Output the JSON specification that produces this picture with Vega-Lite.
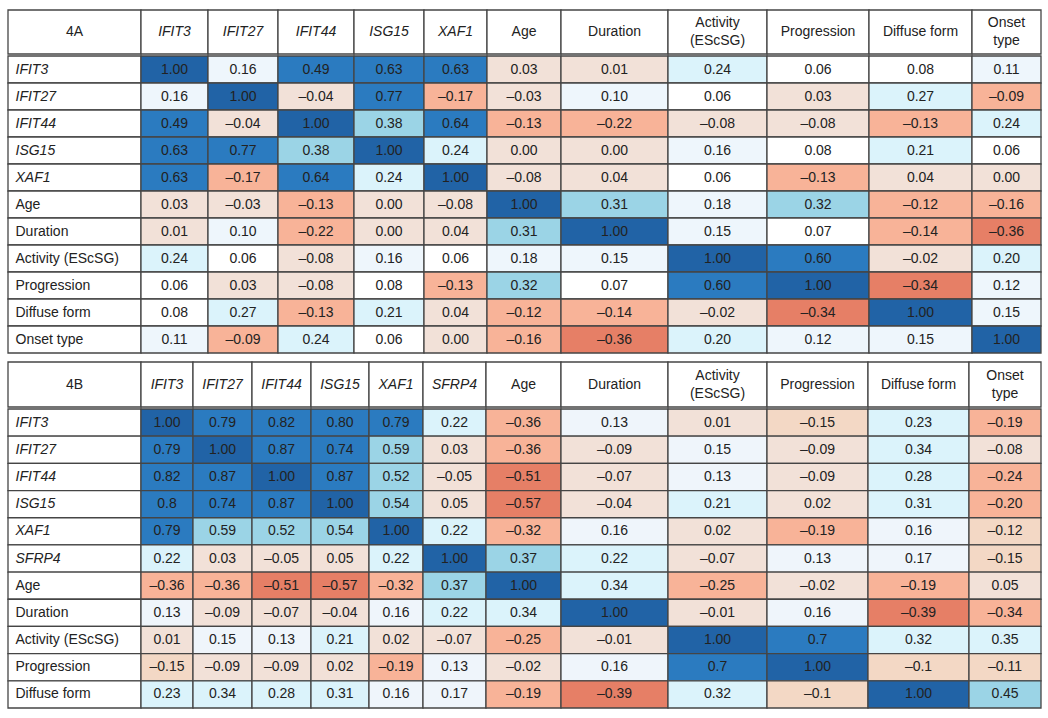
{
"$schema": "https://vega.github.io/schema/vega-lite/v6.json",
"padding": {"left": 7, "top": 9, "right": 4, "bottom": 4},
"background": "white",
"config": {
  "view": {"stroke": null},
  "text": {"font": "Liberation Sans, Arial, sans-serif", "fontSize": 14, "color": "#222", "baseline": "middle", "lineBreak": "\n", "lineHeight": 18},
  "rect": {"stroke": "#454545", "strokeWidth": 1.3}
},
"datasets": {
  "hA": [
    {"c": "lab", "h": "4A"}, {"c": "IFIT3", "h": "IFIT3"}, {"c": "IFIT27", "h": "IFIT27"}, {"c": "IFIT44", "h": "IFIT44"}, {"c": "ISG15", "h": "ISG15"}, {"c": "XAF1", "h": "XAF1"},
    {"c": "Age", "h": "Age"}, {"c": "Duration", "h": "Duration"}, {"c": "Activity (EScSG)", "h": "Activity\n(EScSG)"}, {"c": "Progression", "h": "Progression"}, {"c": "Diffuse form", "h": "Diffuse form"}, {"c": "Onset type", "h": "Onset\ntype"}
  ],
  "hB": [
    {"c": "lab", "h": "4B"}, {"c": "IFIT3", "h": "IFIT3"}, {"c": "IFIT27", "h": "IFIT27"}, {"c": "IFIT44", "h": "IFIT44"}, {"c": "ISG15", "h": "ISG15"}, {"c": "XAF1", "h": "XAF1"}, {"c": "SFRP4", "h": "SFRP4"},
    {"c": "Age", "h": "Age"}, {"c": "Duration", "h": "Duration"}, {"c": "Activity (EScSG)", "h": "Activity\n(EScSG)"}, {"c": "Progression", "h": "Progression"}, {"c": "Diffuse form", "h": "Diffuse form"}, {"c": "Onset type", "h": "Onset\ntype"}
  ],
  "A": [
    {"r":"IFIT3","c":"IFIT3","v":1,"t":"1.00"},{"r":"IFIT3","c":"IFIT27","v":0.16,"t":"0.16"},{"r":"IFIT3","c":"IFIT44","v":0.49,"t":"0.49"},{"r":"IFIT3","c":"ISG15","v":0.63,"t":"0.63"},{"r":"IFIT3","c":"XAF1","v":0.63,"t":"0.63"},{"r":"IFIT3","c":"Age","v":0.03,"t":"0.03"},{"r":"IFIT3","c":"Duration","v":0.01,"t":"0.01"},{"r":"IFIT3","c":"Activity (EScSG)","v":0.24,"t":"0.24"},{"r":"IFIT3","c":"Progression","v":0.06,"t":"0.06"},{"r":"IFIT3","c":"Diffuse form","v":0.08,"t":"0.08"},{"r":"IFIT3","c":"Onset type","v":0.11,"t":"0.11"},
    {"r":"IFIT27","c":"IFIT3","v":0.16,"t":"0.16"},{"r":"IFIT27","c":"IFIT27","v":1,"t":"1.00"},{"r":"IFIT27","c":"IFIT44","v":-0.04,"t":"–0.04"},{"r":"IFIT27","c":"ISG15","v":0.77,"t":"0.77"},{"r":"IFIT27","c":"XAF1","v":-0.17,"t":"–0.17"},{"r":"IFIT27","c":"Age","v":-0.03,"t":"–0.03"},{"r":"IFIT27","c":"Duration","v":0.10,"t":"0.10"},{"r":"IFIT27","c":"Activity (EScSG)","v":0.06,"t":"0.06"},{"r":"IFIT27","c":"Progression","v":0.03,"t":"0.03"},{"r":"IFIT27","c":"Diffuse form","v":0.27,"t":"0.27"},{"r":"IFIT27","c":"Onset type","v":-0.09,"t":"–0.09"},
    {"r":"IFIT44","c":"IFIT3","v":0.49,"t":"0.49"},{"r":"IFIT44","c":"IFIT27","v":-0.04,"t":"–0.04"},{"r":"IFIT44","c":"IFIT44","v":1,"t":"1.00"},{"r":"IFIT44","c":"ISG15","v":0.38,"t":"0.38"},{"r":"IFIT44","c":"XAF1","v":0.64,"t":"0.64"},{"r":"IFIT44","c":"Age","v":-0.13,"t":"–0.13"},{"r":"IFIT44","c":"Duration","v":-0.22,"t":"–0.22"},{"r":"IFIT44","c":"Activity (EScSG)","v":-0.08,"t":"–0.08"},{"r":"IFIT44","c":"Progression","v":-0.08,"t":"–0.08"},{"r":"IFIT44","c":"Diffuse form","v":-0.13,"t":"–0.13"},{"r":"IFIT44","c":"Onset type","v":0.24,"t":"0.24"},
    {"r":"ISG15","c":"IFIT3","v":0.63,"t":"0.63"},{"r":"ISG15","c":"IFIT27","v":0.77,"t":"0.77"},{"r":"ISG15","c":"IFIT44","v":0.38,"t":"0.38"},{"r":"ISG15","c":"ISG15","v":1,"t":"1.00"},{"r":"ISG15","c":"XAF1","v":0.24,"t":"0.24"},{"r":"ISG15","c":"Age","v":0.0,"t":"0.00"},{"r":"ISG15","c":"Duration","v":0.0,"t":"0.00"},{"r":"ISG15","c":"Activity (EScSG)","v":0.16,"t":"0.16"},{"r":"ISG15","c":"Progression","v":0.08,"t":"0.08"},{"r":"ISG15","c":"Diffuse form","v":0.21,"t":"0.21"},{"r":"ISG15","c":"Onset type","v":0.06,"t":"0.06"},
    {"r":"XAF1","c":"IFIT3","v":0.63,"t":"0.63"},{"r":"XAF1","c":"IFIT27","v":-0.17,"t":"–0.17"},{"r":"XAF1","c":"IFIT44","v":0.64,"t":"0.64"},{"r":"XAF1","c":"ISG15","v":0.24,"t":"0.24"},{"r":"XAF1","c":"XAF1","v":1,"t":"1.00"},{"r":"XAF1","c":"Age","v":-0.08,"t":"–0.08"},{"r":"XAF1","c":"Duration","v":0.04,"t":"0.04"},{"r":"XAF1","c":"Activity (EScSG)","v":0.06,"t":"0.06"},{"r":"XAF1","c":"Progression","v":-0.13,"t":"–0.13"},{"r":"XAF1","c":"Diffuse form","v":0.04,"t":"0.04"},{"r":"XAF1","c":"Onset type","v":0.0,"t":"0.00"},
    {"r":"Age","c":"IFIT3","v":0.03,"t":"0.03"},{"r":"Age","c":"IFIT27","v":-0.03,"t":"–0.03"},{"r":"Age","c":"IFIT44","v":-0.13,"t":"–0.13"},{"r":"Age","c":"ISG15","v":0.0,"t":"0.00"},{"r":"Age","c":"XAF1","v":-0.08,"t":"–0.08"},{"r":"Age","c":"Age","v":1,"t":"1.00"},{"r":"Age","c":"Duration","v":0.31,"t":"0.31"},{"r":"Age","c":"Activity (EScSG)","v":0.18,"t":"0.18"},{"r":"Age","c":"Progression","v":0.32,"t":"0.32"},{"r":"Age","c":"Diffuse form","v":-0.12,"t":"–0.12"},{"r":"Age","c":"Onset type","v":-0.16,"t":"–0.16"},
    {"r":"Duration","c":"IFIT3","v":0.01,"t":"0.01"},{"r":"Duration","c":"IFIT27","v":0.10,"t":"0.10"},{"r":"Duration","c":"IFIT44","v":-0.22,"t":"–0.22"},{"r":"Duration","c":"ISG15","v":0.0,"t":"0.00"},{"r":"Duration","c":"XAF1","v":0.04,"t":"0.04"},{"r":"Duration","c":"Age","v":0.31,"t":"0.31"},{"r":"Duration","c":"Duration","v":1,"t":"1.00"},{"r":"Duration","c":"Activity (EScSG)","v":0.15,"t":"0.15"},{"r":"Duration","c":"Progression","v":0.07,"t":"0.07"},{"r":"Duration","c":"Diffuse form","v":-0.14,"t":"–0.14"},{"r":"Duration","c":"Onset type","v":-0.36,"t":"–0.36"},
    {"r":"Activity (EScSG)","c":"IFIT3","v":0.24,"t":"0.24"},{"r":"Activity (EScSG)","c":"IFIT27","v":0.06,"t":"0.06"},{"r":"Activity (EScSG)","c":"IFIT44","v":-0.08,"t":"–0.08"},{"r":"Activity (EScSG)","c":"ISG15","v":0.16,"t":"0.16"},{"r":"Activity (EScSG)","c":"XAF1","v":0.06,"t":"0.06"},{"r":"Activity (EScSG)","c":"Age","v":0.18,"t":"0.18"},{"r":"Activity (EScSG)","c":"Duration","v":0.15,"t":"0.15"},{"r":"Activity (EScSG)","c":"Activity (EScSG)","v":1,"t":"1.00"},{"r":"Activity (EScSG)","c":"Progression","v":0.60,"t":"0.60"},{"r":"Activity (EScSG)","c":"Diffuse form","v":-0.02,"t":"–0.02"},{"r":"Activity (EScSG)","c":"Onset type","v":0.20,"t":"0.20"},
    {"r":"Progression","c":"IFIT3","v":0.06,"t":"0.06"},{"r":"Progression","c":"IFIT27","v":0.03,"t":"0.03"},{"r":"Progression","c":"IFIT44","v":-0.08,"t":"–0.08"},{"r":"Progression","c":"ISG15","v":0.08,"t":"0.08"},{"r":"Progression","c":"XAF1","v":-0.13,"t":"–0.13"},{"r":"Progression","c":"Age","v":0.32,"t":"0.32"},{"r":"Progression","c":"Duration","v":0.07,"t":"0.07"},{"r":"Progression","c":"Activity (EScSG)","v":0.60,"t":"0.60"},{"r":"Progression","c":"Progression","v":1,"t":"1.00"},{"r":"Progression","c":"Diffuse form","v":-0.34,"t":"–0.34"},{"r":"Progression","c":"Onset type","v":0.12,"t":"0.12"},
    {"r":"Diffuse form","c":"IFIT3","v":0.08,"t":"0.08"},{"r":"Diffuse form","c":"IFIT27","v":0.27,"t":"0.27"},{"r":"Diffuse form","c":"IFIT44","v":-0.13,"t":"–0.13"},{"r":"Diffuse form","c":"ISG15","v":0.21,"t":"0.21"},{"r":"Diffuse form","c":"XAF1","v":0.04,"t":"0.04"},{"r":"Diffuse form","c":"Age","v":-0.12,"t":"–0.12"},{"r":"Diffuse form","c":"Duration","v":-0.14,"t":"–0.14"},{"r":"Diffuse form","c":"Activity (EScSG)","v":-0.02,"t":"–0.02"},{"r":"Diffuse form","c":"Progression","v":-0.34,"t":"–0.34"},{"r":"Diffuse form","c":"Diffuse form","v":1,"t":"1.00"},{"r":"Diffuse form","c":"Onset type","v":0.15,"t":"0.15"},
    {"r":"Onset type","c":"IFIT3","v":0.11,"t":"0.11"},{"r":"Onset type","c":"IFIT27","v":-0.09,"t":"–0.09"},{"r":"Onset type","c":"IFIT44","v":0.24,"t":"0.24"},{"r":"Onset type","c":"ISG15","v":0.06,"t":"0.06"},{"r":"Onset type","c":"XAF1","v":0.0,"t":"0.00"},{"r":"Onset type","c":"Age","v":-0.16,"t":"–0.16"},{"r":"Onset type","c":"Duration","v":-0.36,"t":"–0.36"},{"r":"Onset type","c":"Activity (EScSG)","v":0.20,"t":"0.20"},{"r":"Onset type","c":"Progression","v":0.12,"t":"0.12"},{"r":"Onset type","c":"Diffuse form","v":0.15,"t":"0.15"},{"r":"Onset type","c":"Onset type","v":1,"t":"1.00"}
  ],
  "B": [
    {"r":"IFIT3","c":"IFIT3","v":1,"t":"1.00"},{"r":"IFIT3","c":"IFIT27","v":0.79,"t":"0.79"},{"r":"IFIT3","c":"IFIT44","v":0.82,"t":"0.82"},{"r":"IFIT3","c":"ISG15","v":0.80,"t":"0.80"},{"r":"IFIT3","c":"XAF1","v":0.79,"t":"0.79"},{"r":"IFIT3","c":"SFRP4","v":0.22,"t":"0.22"},{"r":"IFIT3","c":"Age","v":-0.36,"t":"–0.36"},{"r":"IFIT3","c":"Duration","v":0.13,"t":"0.13"},{"r":"IFIT3","c":"Activity (EScSG)","v":0.01,"t":"0.01"},{"r":"IFIT3","c":"Progression","v":-0.15,"t":"–0.15"},{"r":"IFIT3","c":"Diffuse form","v":0.23,"t":"0.23"},{"r":"IFIT3","c":"Onset type","v":-0.19,"t":"–0.19"},
    {"r":"IFIT27","c":"IFIT3","v":0.79,"t":"0.79"},{"r":"IFIT27","c":"IFIT27","v":1,"t":"1.00"},{"r":"IFIT27","c":"IFIT44","v":0.87,"t":"0.87"},{"r":"IFIT27","c":"ISG15","v":0.74,"t":"0.74"},{"r":"IFIT27","c":"XAF1","v":0.59,"t":"0.59"},{"r":"IFIT27","c":"SFRP4","v":0.03,"t":"0.03"},{"r":"IFIT27","c":"Age","v":-0.36,"t":"–0.36"},{"r":"IFIT27","c":"Duration","v":-0.09,"t":"–0.09"},{"r":"IFIT27","c":"Activity (EScSG)","v":0.15,"t":"0.15"},{"r":"IFIT27","c":"Progression","v":-0.09,"t":"–0.09"},{"r":"IFIT27","c":"Diffuse form","v":0.34,"t":"0.34"},{"r":"IFIT27","c":"Onset type","v":-0.08,"t":"–0.08"},
    {"r":"IFIT44","c":"IFIT3","v":0.82,"t":"0.82"},{"r":"IFIT44","c":"IFIT27","v":0.87,"t":"0.87"},{"r":"IFIT44","c":"IFIT44","v":1,"t":"1.00"},{"r":"IFIT44","c":"ISG15","v":0.87,"t":"0.87"},{"r":"IFIT44","c":"XAF1","v":0.52,"t":"0.52"},{"r":"IFIT44","c":"SFRP4","v":-0.05,"t":"–0.05"},{"r":"IFIT44","c":"Age","v":-0.51,"t":"–0.51"},{"r":"IFIT44","c":"Duration","v":-0.07,"t":"–0.07"},{"r":"IFIT44","c":"Activity (EScSG)","v":0.13,"t":"0.13"},{"r":"IFIT44","c":"Progression","v":-0.09,"t":"–0.09"},{"r":"IFIT44","c":"Diffuse form","v":0.28,"t":"0.28"},{"r":"IFIT44","c":"Onset type","v":-0.24,"t":"–0.24"},
    {"r":"ISG15","c":"IFIT3","v":0.8,"t":"0.8"},{"r":"ISG15","c":"IFIT27","v":0.74,"t":"0.74"},{"r":"ISG15","c":"IFIT44","v":0.87,"t":"0.87"},{"r":"ISG15","c":"ISG15","v":1,"t":"1.00"},{"r":"ISG15","c":"XAF1","v":0.54,"t":"0.54"},{"r":"ISG15","c":"SFRP4","v":0.05,"t":"0.05"},{"r":"ISG15","c":"Age","v":-0.57,"t":"–0.57"},{"r":"ISG15","c":"Duration","v":-0.04,"t":"–0.04"},{"r":"ISG15","c":"Activity (EScSG)","v":0.21,"t":"0.21"},{"r":"ISG15","c":"Progression","v":0.02,"t":"0.02"},{"r":"ISG15","c":"Diffuse form","v":0.31,"t":"0.31"},{"r":"ISG15","c":"Onset type","v":-0.20,"t":"–0.20"},
    {"r":"XAF1","c":"IFIT3","v":0.79,"t":"0.79"},{"r":"XAF1","c":"IFIT27","v":0.59,"t":"0.59"},{"r":"XAF1","c":"IFIT44","v":0.52,"t":"0.52"},{"r":"XAF1","c":"ISG15","v":0.54,"t":"0.54"},{"r":"XAF1","c":"XAF1","v":1,"t":"1.00"},{"r":"XAF1","c":"SFRP4","v":0.22,"t":"0.22"},{"r":"XAF1","c":"Age","v":-0.32,"t":"–0.32"},{"r":"XAF1","c":"Duration","v":0.16,"t":"0.16"},{"r":"XAF1","c":"Activity (EScSG)","v":0.02,"t":"0.02"},{"r":"XAF1","c":"Progression","v":-0.19,"t":"–0.19"},{"r":"XAF1","c":"Diffuse form","v":0.16,"t":"0.16"},{"r":"XAF1","c":"Onset type","v":-0.12,"t":"–0.12"},
    {"r":"SFRP4","c":"IFIT3","v":0.22,"t":"0.22"},{"r":"SFRP4","c":"IFIT27","v":0.03,"t":"0.03"},{"r":"SFRP4","c":"IFIT44","v":-0.05,"t":"–0.05"},{"r":"SFRP4","c":"ISG15","v":0.05,"t":"0.05"},{"r":"SFRP4","c":"XAF1","v":0.22,"t":"0.22"},{"r":"SFRP4","c":"SFRP4","v":1,"t":"1.00"},{"r":"SFRP4","c":"Age","v":0.37,"t":"0.37"},{"r":"SFRP4","c":"Duration","v":0.22,"t":"0.22"},{"r":"SFRP4","c":"Activity (EScSG)","v":-0.07,"t":"–0.07"},{"r":"SFRP4","c":"Progression","v":0.13,"t":"0.13"},{"r":"SFRP4","c":"Diffuse form","v":0.17,"t":"0.17"},{"r":"SFRP4","c":"Onset type","v":-0.15,"t":"–0.15"},
    {"r":"Age","c":"IFIT3","v":-0.36,"t":"–0.36"},{"r":"Age","c":"IFIT27","v":-0.36,"t":"–0.36"},{"r":"Age","c":"IFIT44","v":-0.51,"t":"–0.51"},{"r":"Age","c":"ISG15","v":-0.57,"t":"–0.57"},{"r":"Age","c":"XAF1","v":-0.32,"t":"–0.32"},{"r":"Age","c":"SFRP4","v":0.37,"t":"0.37"},{"r":"Age","c":"Age","v":1,"t":"1.00"},{"r":"Age","c":"Duration","v":0.34,"t":"0.34"},{"r":"Age","c":"Activity (EScSG)","v":-0.25,"t":"–0.25"},{"r":"Age","c":"Progression","v":-0.02,"t":"–0.02"},{"r":"Age","c":"Diffuse form","v":-0.19,"t":"–0.19"},{"r":"Age","c":"Onset type","v":0.05,"t":"0.05"},
    {"r":"Duration","c":"IFIT3","v":0.13,"t":"0.13"},{"r":"Duration","c":"IFIT27","v":-0.09,"t":"–0.09"},{"r":"Duration","c":"IFIT44","v":-0.07,"t":"–0.07"},{"r":"Duration","c":"ISG15","v":-0.04,"t":"–0.04"},{"r":"Duration","c":"XAF1","v":0.16,"t":"0.16"},{"r":"Duration","c":"SFRP4","v":0.22,"t":"0.22"},{"r":"Duration","c":"Age","v":0.34,"t":"0.34"},{"r":"Duration","c":"Duration","v":1,"t":"1.00"},{"r":"Duration","c":"Activity (EScSG)","v":-0.01,"t":"–0.01"},{"r":"Duration","c":"Progression","v":0.16,"t":"0.16"},{"r":"Duration","c":"Diffuse form","v":-0.39,"t":"–0.39"},{"r":"Duration","c":"Onset type","v":-0.34,"t":"–0.34"},
    {"r":"Activity (EScSG)","c":"IFIT3","v":0.01,"t":"0.01"},{"r":"Activity (EScSG)","c":"IFIT27","v":0.15,"t":"0.15"},{"r":"Activity (EScSG)","c":"IFIT44","v":0.13,"t":"0.13"},{"r":"Activity (EScSG)","c":"ISG15","v":0.21,"t":"0.21"},{"r":"Activity (EScSG)","c":"XAF1","v":0.02,"t":"0.02"},{"r":"Activity (EScSG)","c":"SFRP4","v":-0.07,"t":"–0.07"},{"r":"Activity (EScSG)","c":"Age","v":-0.25,"t":"–0.25"},{"r":"Activity (EScSG)","c":"Duration","v":-0.01,"t":"–0.01"},{"r":"Activity (EScSG)","c":"Activity (EScSG)","v":1,"t":"1.00"},{"r":"Activity (EScSG)","c":"Progression","v":0.7,"t":"0.7"},{"r":"Activity (EScSG)","c":"Diffuse form","v":0.32,"t":"0.32"},{"r":"Activity (EScSG)","c":"Onset type","v":0.35,"t":"0.35"},
    {"r":"Progression","c":"IFIT3","v":-0.15,"t":"–0.15"},{"r":"Progression","c":"IFIT27","v":-0.09,"t":"–0.09"},{"r":"Progression","c":"IFIT44","v":-0.09,"t":"–0.09"},{"r":"Progression","c":"ISG15","v":0.02,"t":"0.02"},{"r":"Progression","c":"XAF1","v":-0.19,"t":"–0.19"},{"r":"Progression","c":"SFRP4","v":0.13,"t":"0.13"},{"r":"Progression","c":"Age","v":-0.02,"t":"–0.02"},{"r":"Progression","c":"Duration","v":0.16,"t":"0.16"},{"r":"Progression","c":"Activity (EScSG)","v":0.7,"t":"0.7"},{"r":"Progression","c":"Progression","v":1,"t":"1.00"},{"r":"Progression","c":"Diffuse form","v":-0.1,"t":"–0.1"},{"r":"Progression","c":"Onset type","v":-0.11,"t":"–0.11"},
    {"r":"Diffuse form","c":"IFIT3","v":0.23,"t":"0.23"},{"r":"Diffuse form","c":"IFIT27","v":0.34,"t":"0.34"},{"r":"Diffuse form","c":"IFIT44","v":0.28,"t":"0.28"},{"r":"Diffuse form","c":"ISG15","v":0.31,"t":"0.31"},{"r":"Diffuse form","c":"XAF1","v":0.16,"t":"0.16"},{"r":"Diffuse form","c":"SFRP4","v":0.17,"t":"0.17"},{"r":"Diffuse form","c":"Age","v":-0.19,"t":"–0.19"},{"r":"Diffuse form","c":"Duration","v":-0.39,"t":"–0.39"},{"r":"Diffuse form","c":"Activity (EScSG)","v":0.32,"t":"0.32"},{"r":"Diffuse form","c":"Progression","v":-0.1,"t":"–0.1"},{"r":"Diffuse form","c":"Diffuse form","v":1,"t":"1.00"},{"r":"Diffuse form","c":"Onset type","v":0.45,"t":"0.45"}
  ]
},
"spacing": 7,
"resolve": {"scale": {"y": "independent", "fill": "independent"}},
"vconcat": [
  {"spacing": 0, "vconcat": [
    {"data": {"name": "hA"}, "spacing": 0, "bounds": "flush", "hconcat": [
      {"width": 133, "height": 44, "transform": [{"filter": "datum.c==='lab'"}], "layer": [{"mark": {"type": "rect", "fill": "white"}, "encoding": {}}, {"mark": "text", "encoding": {"text": {"field": "h"}}}]},
      {"width": 67, "height": 44, "transform": [{"filter": "datum.c==='IFIT3'"}], "layer": [{"mark": {"type": "rect", "fill": "white"}, "encoding": {}}, {"mark": {"type": "text", "fontStyle": "italic"}, "encoding": {"text": {"field": "h"}}}]},
      {"width": 70, "height": 44, "transform": [{"filter": "datum.c==='IFIT27'"}], "layer": [{"mark": {"type": "rect", "fill": "white"}, "encoding": {}}, {"mark": {"type": "text", "fontStyle": "italic"}, "encoding": {"text": {"field": "h"}}}]},
      {"width": 76, "height": 44, "transform": [{"filter": "datum.c==='IFIT44'"}], "layer": [{"mark": {"type": "rect", "fill": "white"}, "encoding": {}}, {"mark": {"type": "text", "fontStyle": "italic"}, "encoding": {"text": {"field": "h"}}}]},
      {"width": 70, "height": 44, "transform": [{"filter": "datum.c==='ISG15'"}], "layer": [{"mark": {"type": "rect", "fill": "white"}, "encoding": {}}, {"mark": {"type": "text", "fontStyle": "italic"}, "encoding": {"text": {"field": "h"}}}]},
      {"width": 63, "height": 44, "transform": [{"filter": "datum.c==='XAF1'"}], "layer": [{"mark": {"type": "rect", "fill": "white"}, "encoding": {}}, {"mark": {"type": "text", "fontStyle": "italic"}, "encoding": {"text": {"field": "h"}}}]},
      {"width": 74, "height": 44, "transform": [{"filter": "datum.c==='Age'"}], "layer": [{"mark": {"type": "rect", "fill": "white"}, "encoding": {}}, {"mark": "text", "encoding": {"text": {"field": "h"}}}]},
      {"width": 107, "height": 44, "transform": [{"filter": "datum.c==='Duration'"}], "layer": [{"mark": {"type": "rect", "fill": "white"}, "encoding": {}}, {"mark": "text", "encoding": {"text": {"field": "h"}}}]},
      {"width": 99, "height": 44, "transform": [{"filter": "datum.c==='Activity (EScSG)'"}], "layer": [{"mark": {"type": "rect", "fill": "white"}, "encoding": {}}, {"mark": {"type": "text", "dy": -9}, "encoding": {"text": {"field": "h"}}}]},
      {"width": 102, "height": 44, "transform": [{"filter": "datum.c==='Progression'"}], "layer": [{"mark": {"type": "rect", "fill": "white"}, "encoding": {}}, {"mark": "text", "encoding": {"text": {"field": "h"}}}]},
      {"width": 103, "height": 44, "transform": [{"filter": "datum.c==='Diffuse form'"}], "layer": [{"mark": {"type": "rect", "fill": "white"}, "encoding": {}}, {"mark": "text", "encoding": {"text": {"field": "h"}}}]},
      {"width": 69, "height": 44, "transform": [{"filter": "datum.c==='Onset type'"}], "layer": [{"mark": {"type": "rect", "fill": "white"}, "encoding": {}}, {"mark": {"type": "text", "dy": -9}, "encoding": {"text": {"field": "h"}}}]}
    ]},
    {"data": {"name": "A"}, "spacing": 0, "bounds": "flush", "hconcat": [
      {"width": 133, "height": 297, "transform": [{"filter": "datum.c==='IFIT3'"}],
       "encoding": {"y": {"field": "r", "type": "nominal", "axis": null, "sort": null, "scale": {"domain": ["IFIT3","IFIT27","IFIT44","ISG15","XAF1","Age","Duration","Activity (EScSG)","Progression","Diffuse form","Onset type"], "paddingInner": 0, "paddingOuter": 0}}},
       "layer": [
         {"mark": {"type": "rect", "fill": "white"}, "encoding": {}},
         {"transform": [{"filter": "indexof(['IFIT3','IFIT27','IFIT44','ISG15','XAF1','SFRP4'], datum.r) >= 0"}], "mark": {"type": "text", "align": "left", "dx": -59, "fontStyle": "italic"}, "encoding": {"text": {"field": "r"}}},
         {"transform": [{"filter": "indexof(['IFIT3','IFIT27','IFIT44','ISG15','XAF1','SFRP4'], datum.r) < 0"}], "mark": {"type": "text", "align": "left", "dx": -59}, "encoding": {"text": {"field": "r"}}}
       ]},
      {"width": 67, "height": 297, "transform": [{"filter": "datum.c==='IFIT3'"}], "encoding": {"y": {"field": "r", "type": "nominal", "axis": null, "sort": null, "scale": {"domain": ["IFIT3","IFIT27","IFIT44","ISG15","XAF1","Age","Duration","Activity (EScSG)","Progression","Diffuse form","Onset type"], "paddingInner": 0, "paddingOuter": 0}}},
       "layer": [{"mark": "rect", "encoding": {"fill": {"field": "v", "type": "quantitative", "legend": null, "scale": {"type": "threshold", "domain": [-0.3, -0.085, 0.055, 0.095, 0.195, 0.295, 0.45, 0.995], "range": ["#e67f66","#f8b398","#f2e1d8","#ffffff","#eef6fc","#dbf3fb","#9bd4e6","#2b7bc0","#2163a6"]}}}}, {"mark": "text", "encoding": {"text": {"field": "t"}}}]},
      {"width": 70, "height": 297, "transform": [{"filter": "datum.c==='IFIT27'"}], "encoding": {"y": {"field": "r", "type": "nominal", "axis": null, "sort": null, "scale": {"domain": ["IFIT3","IFIT27","IFIT44","ISG15","XAF1","Age","Duration","Activity (EScSG)","Progression","Diffuse form","Onset type"], "paddingInner": 0, "paddingOuter": 0}}},
       "layer": [{"mark": "rect", "encoding": {"fill": {"field": "v", "type": "quantitative", "legend": null, "scale": {"type": "threshold", "domain": [-0.3, -0.085, 0.055, 0.095, 0.195, 0.295, 0.45, 0.995], "range": ["#e67f66","#f8b398","#f2e1d8","#ffffff","#eef6fc","#dbf3fb","#9bd4e6","#2b7bc0","#2163a6"]}}}}, {"mark": "text", "encoding": {"text": {"field": "t"}}}]},
      {"width": 76, "height": 297, "transform": [{"filter": "datum.c==='IFIT44'"}], "encoding": {"y": {"field": "r", "type": "nominal", "axis": null, "sort": null, "scale": {"domain": ["IFIT3","IFIT27","IFIT44","ISG15","XAF1","Age","Duration","Activity (EScSG)","Progression","Diffuse form","Onset type"], "paddingInner": 0, "paddingOuter": 0}}},
       "layer": [{"mark": "rect", "encoding": {"fill": {"field": "v", "type": "quantitative", "legend": null, "scale": {"type": "threshold", "domain": [-0.3, -0.085, 0.055, 0.095, 0.195, 0.295, 0.45, 0.995], "range": ["#e67f66","#f8b398","#f2e1d8","#ffffff","#eef6fc","#dbf3fb","#9bd4e6","#2b7bc0","#2163a6"]}}}}, {"mark": "text", "encoding": {"text": {"field": "t"}}}]},
      {"width": 70, "height": 297, "transform": [{"filter": "datum.c==='ISG15'"}], "encoding": {"y": {"field": "r", "type": "nominal", "axis": null, "sort": null, "scale": {"domain": ["IFIT3","IFIT27","IFIT44","ISG15","XAF1","Age","Duration","Activity (EScSG)","Progression","Diffuse form","Onset type"], "paddingInner": 0, "paddingOuter": 0}}},
       "layer": [{"mark": "rect", "encoding": {"fill": {"field": "v", "type": "quantitative", "legend": null, "scale": {"type": "threshold", "domain": [-0.3, -0.085, 0.055, 0.095, 0.195, 0.295, 0.45, 0.995], "range": ["#e67f66","#f8b398","#f2e1d8","#ffffff","#eef6fc","#dbf3fb","#9bd4e6","#2b7bc0","#2163a6"]}}}}, {"mark": "text", "encoding": {"text": {"field": "t"}}}]},
      {"width": 63, "height": 297, "transform": [{"filter": "datum.c==='XAF1'"}], "encoding": {"y": {"field": "r", "type": "nominal", "axis": null, "sort": null, "scale": {"domain": ["IFIT3","IFIT27","IFIT44","ISG15","XAF1","Age","Duration","Activity (EScSG)","Progression","Diffuse form","Onset type"], "paddingInner": 0, "paddingOuter": 0}}},
       "layer": [{"mark": "rect", "encoding": {"fill": {"field": "v", "type": "quantitative", "legend": null, "scale": {"type": "threshold", "domain": [-0.3, -0.085, 0.055, 0.095, 0.195, 0.295, 0.45, 0.995], "range": ["#e67f66","#f8b398","#f2e1d8","#ffffff","#eef6fc","#dbf3fb","#9bd4e6","#2b7bc0","#2163a6"]}}}}, {"mark": "text", "encoding": {"text": {"field": "t"}}}]},
      {"width": 74, "height": 297, "transform": [{"filter": "datum.c==='Age'"}], "encoding": {"y": {"field": "r", "type": "nominal", "axis": null, "sort": null, "scale": {"domain": ["IFIT3","IFIT27","IFIT44","ISG15","XAF1","Age","Duration","Activity (EScSG)","Progression","Diffuse form","Onset type"], "paddingInner": 0, "paddingOuter": 0}}},
       "layer": [{"mark": "rect", "encoding": {"fill": {"field": "v", "type": "quantitative", "legend": null, "scale": {"type": "threshold", "domain": [-0.3, -0.085, 0.055, 0.095, 0.195, 0.295, 0.45, 0.995], "range": ["#e67f66","#f8b398","#f2e1d8","#ffffff","#eef6fc","#dbf3fb","#9bd4e6","#2b7bc0","#2163a6"]}}}}, {"mark": "text", "encoding": {"text": {"field": "t"}}}]},
      {"width": 107, "height": 297, "transform": [{"filter": "datum.c==='Duration'"}], "encoding": {"y": {"field": "r", "type": "nominal", "axis": null, "sort": null, "scale": {"domain": ["IFIT3","IFIT27","IFIT44","ISG15","XAF1","Age","Duration","Activity (EScSG)","Progression","Diffuse form","Onset type"], "paddingInner": 0, "paddingOuter": 0}}},
       "layer": [{"mark": "rect", "encoding": {"fill": {"field": "v", "type": "quantitative", "legend": null, "scale": {"type": "threshold", "domain": [-0.3, -0.085, 0.055, 0.095, 0.195, 0.295, 0.45, 0.995], "range": ["#e67f66","#f8b398","#f2e1d8","#ffffff","#eef6fc","#dbf3fb","#9bd4e6","#2b7bc0","#2163a6"]}}}}, {"mark": "text", "encoding": {"text": {"field": "t"}}}]},
      {"width": 99, "height": 297, "transform": [{"filter": "datum.c==='Activity (EScSG)'"}], "encoding": {"y": {"field": "r", "type": "nominal", "axis": null, "sort": null, "scale": {"domain": ["IFIT3","IFIT27","IFIT44","ISG15","XAF1","Age","Duration","Activity (EScSG)","Progression","Diffuse form","Onset type"], "paddingInner": 0, "paddingOuter": 0}}},
       "layer": [{"mark": "rect", "encoding": {"fill": {"field": "v", "type": "quantitative", "legend": null, "scale": {"type": "threshold", "domain": [-0.3, -0.085, 0.055, 0.095, 0.195, 0.295, 0.45, 0.995], "range": ["#e67f66","#f8b398","#f2e1d8","#ffffff","#eef6fc","#dbf3fb","#9bd4e6","#2b7bc0","#2163a6"]}}}}, {"mark": "text", "encoding": {"text": {"field": "t"}}}]},
      {"width": 102, "height": 297, "transform": [{"filter": "datum.c==='Progression'"}], "encoding": {"y": {"field": "r", "type": "nominal", "axis": null, "sort": null, "scale": {"domain": ["IFIT3","IFIT27","IFIT44","ISG15","XAF1","Age","Duration","Activity (EScSG)","Progression","Diffuse form","Onset type"], "paddingInner": 0, "paddingOuter": 0}}},
       "layer": [{"mark": "rect", "encoding": {"fill": {"field": "v", "type": "quantitative", "legend": null, "scale": {"type": "threshold", "domain": [-0.3, -0.085, 0.055, 0.095, 0.195, 0.295, 0.45, 0.995], "range": ["#e67f66","#f8b398","#f2e1d8","#ffffff","#eef6fc","#dbf3fb","#9bd4e6","#2b7bc0","#2163a6"]}}}}, {"mark": "text", "encoding": {"text": {"field": "t"}}}]},
      {"width": 103, "height": 297, "transform": [{"filter": "datum.c==='Diffuse form'"}], "encoding": {"y": {"field": "r", "type": "nominal", "axis": null, "sort": null, "scale": {"domain": ["IFIT3","IFIT27","IFIT44","ISG15","XAF1","Age","Duration","Activity (EScSG)","Progression","Diffuse form","Onset type"], "paddingInner": 0, "paddingOuter": 0}}},
       "layer": [{"mark": "rect", "encoding": {"fill": {"field": "v", "type": "quantitative", "legend": null, "scale": {"type": "threshold", "domain": [-0.3, -0.085, 0.055, 0.095, 0.195, 0.295, 0.45, 0.995], "range": ["#e67f66","#f8b398","#f2e1d8","#ffffff","#eef6fc","#dbf3fb","#9bd4e6","#2b7bc0","#2163a6"]}}}}, {"mark": "text", "encoding": {"text": {"field": "t"}}}]},
      {"width": 69, "height": 297, "transform": [{"filter": "datum.c==='Onset type'"}], "encoding": {"y": {"field": "r", "type": "nominal", "axis": null, "sort": null, "scale": {"domain": ["IFIT3","IFIT27","IFIT44","ISG15","XAF1","Age","Duration","Activity (EScSG)","Progression","Diffuse form","Onset type"], "paddingInner": 0, "paddingOuter": 0}}},
       "layer": [{"mark": "rect", "encoding": {"fill": {"field": "v", "type": "quantitative", "legend": null, "scale": {"type": "threshold", "domain": [-0.3, -0.085, 0.055, 0.095, 0.195, 0.295, 0.45, 0.995], "range": ["#e67f66","#f8b398","#f2e1d8","#ffffff","#eef6fc","#dbf3fb","#9bd4e6","#2b7bc0","#2163a6"]}}}}, {"mark": "text", "encoding": {"text": {"field": "t"}}}]}
    ]}
  ]},
  {"spacing": 0, "vconcat": [
    {"data": {"name": "hB"}, "spacing": 0, "bounds": "flush", "hconcat": [
      {"width": 133, "height": 45, "transform": [{"filter": "datum.c==='lab'"}], "layer": [{"mark": {"type": "rect", "fill": "white"}, "encoding": {}}, {"mark": "text", "encoding": {"text": {"field": "h"}}}]},
      {"width": 52, "height": 45, "transform": [{"filter": "datum.c==='IFIT3'"}], "layer": [{"mark": {"type": "rect", "fill": "white"}, "encoding": {}}, {"mark": {"type": "text", "fontStyle": "italic"}, "encoding": {"text": {"field": "h"}}}]},
      {"width": 59, "height": 45, "transform": [{"filter": "datum.c==='IFIT27'"}], "layer": [{"mark": {"type": "rect", "fill": "white"}, "encoding": {}}, {"mark": {"type": "text", "fontStyle": "italic"}, "encoding": {"text": {"field": "h"}}}]},
      {"width": 59, "height": 45, "transform": [{"filter": "datum.c==='IFIT44'"}], "layer": [{"mark": {"type": "rect", "fill": "white"}, "encoding": {}}, {"mark": {"type": "text", "fontStyle": "italic"}, "encoding": {"text": {"field": "h"}}}]},
      {"width": 58, "height": 45, "transform": [{"filter": "datum.c==='ISG15'"}], "layer": [{"mark": {"type": "rect", "fill": "white"}, "encoding": {}}, {"mark": {"type": "text", "fontStyle": "italic"}, "encoding": {"text": {"field": "h"}}}]},
      {"width": 54, "height": 45, "transform": [{"filter": "datum.c==='XAF1'"}], "layer": [{"mark": {"type": "rect", "fill": "white"}, "encoding": {}}, {"mark": {"type": "text", "fontStyle": "italic"}, "encoding": {"text": {"field": "h"}}}]},
      {"width": 63, "height": 45, "transform": [{"filter": "datum.c==='SFRP4'"}], "layer": [{"mark": {"type": "rect", "fill": "white"}, "encoding": {}}, {"mark": {"type": "text", "fontStyle": "italic"}, "encoding": {"text": {"field": "h"}}}]},
      {"width": 75, "height": 45, "transform": [{"filter": "datum.c==='Age'"}], "layer": [{"mark": {"type": "rect", "fill": "white"}, "encoding": {}}, {"mark": "text", "encoding": {"text": {"field": "h"}}}]},
      {"width": 107, "height": 45, "transform": [{"filter": "datum.c==='Duration'"}], "layer": [{"mark": {"type": "rect", "fill": "white"}, "encoding": {}}, {"mark": "text", "encoding": {"text": {"field": "h"}}}]},
      {"width": 99, "height": 45, "transform": [{"filter": "datum.c==='Activity (EScSG)'"}], "layer": [{"mark": {"type": "rect", "fill": "white"}, "encoding": {}}, {"mark": {"type": "text", "dy": -9}, "encoding": {"text": {"field": "h"}}}]},
      {"width": 101, "height": 45, "transform": [{"filter": "datum.c==='Progression'"}], "layer": [{"mark": {"type": "rect", "fill": "white"}, "encoding": {}}, {"mark": "text", "encoding": {"text": {"field": "h"}}}]},
      {"width": 101, "height": 45, "transform": [{"filter": "datum.c==='Diffuse form'"}], "layer": [{"mark": {"type": "rect", "fill": "white"}, "encoding": {}}, {"mark": "text", "encoding": {"text": {"field": "h"}}}]},
      {"width": 72, "height": 45, "transform": [{"filter": "datum.c==='Onset type'"}], "layer": [{"mark": {"type": "rect", "fill": "white"}, "encoding": {}}, {"mark": {"type": "text", "dy": -9}, "encoding": {"text": {"field": "h"}}}]}
    ]},
    {"data": {"name": "B"}, "spacing": 0, "bounds": "flush", "hconcat": [
      {"width": 133, "height": 299, "transform": [{"filter": "datum.c==='IFIT3'"}],
       "encoding": {"y": {"field": "r", "type": "nominal", "axis": null, "sort": null, "scale": {"domain": ["IFIT3","IFIT27","IFIT44","ISG15","XAF1","SFRP4","Age","Duration","Activity (EScSG)","Progression","Diffuse form"], "paddingInner": 0, "paddingOuter": 0}}},
       "layer": [
         {"mark": {"type": "rect", "fill": "white"}, "encoding": {}},
         {"transform": [{"filter": "indexof(['IFIT3','IFIT27','IFIT44','ISG15','XAF1','SFRP4'], datum.r) >= 0"}], "mark": {"type": "text", "align": "left", "dx": -59, "fontStyle": "italic"}, "encoding": {"text": {"field": "r"}}},
         {"transform": [{"filter": "indexof(['IFIT3','IFIT27','IFIT44','ISG15','XAF1','SFRP4'], datum.r) < 0"}], "mark": {"type": "text", "align": "left", "dx": -59}, "encoding": {"text": {"field": "r"}}}
       ]},
      {"width": 52, "height": 299, "transform": [{"filter": "datum.c==='IFIT3'"}], "encoding": {"y": {"field": "r", "type": "nominal", "axis": null, "sort": null, "scale": {"domain": ["IFIT3","IFIT27","IFIT44","ISG15","XAF1","SFRP4","Age","Duration","Activity (EScSG)","Progression","Diffuse form"], "paddingInner": 0, "paddingOuter": 0}}},
       "layer": [{"mark": "rect", "encoding": {"fill": {"field": "v", "type": "quantitative", "legend": null, "scale": {"type": "threshold", "domain": [-0.37, -0.185, -0.095, 0.055, 0.195, 0.365, 0.6, 0.995], "range": ["#e67f66","#f8b398","#f3d8c5","#f2e1d8","#eff5fb","#dbf3fb","#9bd4e6","#2b7bc0","#2163a6"]}}}}, {"mark": "text", "encoding": {"text": {"field": "t"}}}]},
      {"width": 59, "height": 299, "transform": [{"filter": "datum.c==='IFIT27'"}], "encoding": {"y": {"field": "r", "type": "nominal", "axis": null, "sort": null, "scale": {"domain": ["IFIT3","IFIT27","IFIT44","ISG15","XAF1","SFRP4","Age","Duration","Activity (EScSG)","Progression","Diffuse form"], "paddingInner": 0, "paddingOuter": 0}}},
       "layer": [{"mark": "rect", "encoding": {"fill": {"field": "v", "type": "quantitative", "legend": null, "scale": {"type": "threshold", "domain": [-0.37, -0.185, -0.095, 0.055, 0.195, 0.365, 0.6, 0.995], "range": ["#e67f66","#f8b398","#f3d8c5","#f2e1d8","#eff5fb","#dbf3fb","#9bd4e6","#2b7bc0","#2163a6"]}}}}, {"mark": "text", "encoding": {"text": {"field": "t"}}}]},
      {"width": 59, "height": 299, "transform": [{"filter": "datum.c==='IFIT44'"}], "encoding": {"y": {"field": "r", "type": "nominal", "axis": null, "sort": null, "scale": {"domain": ["IFIT3","IFIT27","IFIT44","ISG15","XAF1","SFRP4","Age","Duration","Activity (EScSG)","Progression","Diffuse form"], "paddingInner": 0, "paddingOuter": 0}}},
       "layer": [{"mark": "rect", "encoding": {"fill": {"field": "v", "type": "quantitative", "legend": null, "scale": {"type": "threshold", "domain": [-0.37, -0.185, -0.095, 0.055, 0.195, 0.365, 0.6, 0.995], "range": ["#e67f66","#f8b398","#f3d8c5","#f2e1d8","#eff5fb","#dbf3fb","#9bd4e6","#2b7bc0","#2163a6"]}}}}, {"mark": "text", "encoding": {"text": {"field": "t"}}}]},
      {"width": 58, "height": 299, "transform": [{"filter": "datum.c==='ISG15'"}], "encoding": {"y": {"field": "r", "type": "nominal", "axis": null, "sort": null, "scale": {"domain": ["IFIT3","IFIT27","IFIT44","ISG15","XAF1","SFRP4","Age","Duration","Activity (EScSG)","Progression","Diffuse form"], "paddingInner": 0, "paddingOuter": 0}}},
       "layer": [{"mark": "rect", "encoding": {"fill": {"field": "v", "type": "quantitative", "legend": null, "scale": {"type": "threshold", "domain": [-0.37, -0.185, -0.095, 0.055, 0.195, 0.365, 0.6, 0.995], "range": ["#e67f66","#f8b398","#f3d8c5","#f2e1d8","#eff5fb","#dbf3fb","#9bd4e6","#2b7bc0","#2163a6"]}}}}, {"mark": "text", "encoding": {"text": {"field": "t"}}}]},
      {"width": 54, "height": 299, "transform": [{"filter": "datum.c==='XAF1'"}], "encoding": {"y": {"field": "r", "type": "nominal", "axis": null, "sort": null, "scale": {"domain": ["IFIT3","IFIT27","IFIT44","ISG15","XAF1","SFRP4","Age","Duration","Activity (EScSG)","Progression","Diffuse form"], "paddingInner": 0, "paddingOuter": 0}}},
       "layer": [{"mark": "rect", "encoding": {"fill": {"field": "v", "type": "quantitative", "legend": null, "scale": {"type": "threshold", "domain": [-0.37, -0.185, -0.095, 0.055, 0.195, 0.365, 0.6, 0.995], "range": ["#e67f66","#f8b398","#f3d8c5","#f2e1d8","#eff5fb","#dbf3fb","#9bd4e6","#2b7bc0","#2163a6"]}}}}, {"mark": "text", "encoding": {"text": {"field": "t"}}}]},
      {"width": 63, "height": 299, "transform": [{"filter": "datum.c==='SFRP4'"}], "encoding": {"y": {"field": "r", "type": "nominal", "axis": null, "sort": null, "scale": {"domain": ["IFIT3","IFIT27","IFIT44","ISG15","XAF1","SFRP4","Age","Duration","Activity (EScSG)","Progression","Diffuse form"], "paddingInner": 0, "paddingOuter": 0}}},
       "layer": [{"mark": "rect", "encoding": {"fill": {"field": "v", "type": "quantitative", "legend": null, "scale": {"type": "threshold", "domain": [-0.37, -0.185, -0.095, 0.055, 0.195, 0.365, 0.6, 0.995], "range": ["#e67f66","#f8b398","#f3d8c5","#f2e1d8","#eff5fb","#dbf3fb","#9bd4e6","#2b7bc0","#2163a6"]}}}}, {"mark": "text", "encoding": {"text": {"field": "t"}}}]},
      {"width": 75, "height": 299, "transform": [{"filter": "datum.c==='Age'"}], "encoding": {"y": {"field": "r", "type": "nominal", "axis": null, "sort": null, "scale": {"domain": ["IFIT3","IFIT27","IFIT44","ISG15","XAF1","SFRP4","Age","Duration","Activity (EScSG)","Progression","Diffuse form"], "paddingInner": 0, "paddingOuter": 0}}},
       "layer": [{"mark": "rect", "encoding": {"fill": {"field": "v", "type": "quantitative", "legend": null, "scale": {"type": "threshold", "domain": [-0.37, -0.185, -0.095, 0.055, 0.195, 0.365, 0.6, 0.995], "range": ["#e67f66","#f8b398","#f3d8c5","#f2e1d8","#eff5fb","#dbf3fb","#9bd4e6","#2b7bc0","#2163a6"]}}}}, {"mark": "text", "encoding": {"text": {"field": "t"}}}]},
      {"width": 107, "height": 299, "transform": [{"filter": "datum.c==='Duration'"}], "encoding": {"y": {"field": "r", "type": "nominal", "axis": null, "sort": null, "scale": {"domain": ["IFIT3","IFIT27","IFIT44","ISG15","XAF1","SFRP4","Age","Duration","Activity (EScSG)","Progression","Diffuse form"], "paddingInner": 0, "paddingOuter": 0}}},
       "layer": [{"mark": "rect", "encoding": {"fill": {"field": "v", "type": "quantitative", "legend": null, "scale": {"type": "threshold", "domain": [-0.37, -0.185, -0.095, 0.055, 0.195, 0.365, 0.6, 0.995], "range": ["#e67f66","#f8b398","#f3d8c5","#f2e1d8","#eff5fb","#dbf3fb","#9bd4e6","#2b7bc0","#2163a6"]}}}}, {"mark": "text", "encoding": {"text": {"field": "t"}}}]},
      {"width": 99, "height": 299, "transform": [{"filter": "datum.c==='Activity (EScSG)'"}], "encoding": {"y": {"field": "r", "type": "nominal", "axis": null, "sort": null, "scale": {"domain": ["IFIT3","IFIT27","IFIT44","ISG15","XAF1","SFRP4","Age","Duration","Activity (EScSG)","Progression","Diffuse form"], "paddingInner": 0, "paddingOuter": 0}}},
       "layer": [{"mark": "rect", "encoding": {"fill": {"field": "v", "type": "quantitative", "legend": null, "scale": {"type": "threshold", "domain": [-0.37, -0.185, -0.095, 0.055, 0.195, 0.365, 0.6, 0.995], "range": ["#e67f66","#f8b398","#f3d8c5","#f2e1d8","#eff5fb","#dbf3fb","#9bd4e6","#2b7bc0","#2163a6"]}}}}, {"mark": "text", "encoding": {"text": {"field": "t"}}}]},
      {"width": 101, "height": 299, "transform": [{"filter": "datum.c==='Progression'"}], "encoding": {"y": {"field": "r", "type": "nominal", "axis": null, "sort": null, "scale": {"domain": ["IFIT3","IFIT27","IFIT44","ISG15","XAF1","SFRP4","Age","Duration","Activity (EScSG)","Progression","Diffuse form"], "paddingInner": 0, "paddingOuter": 0}}},
       "layer": [{"mark": "rect", "encoding": {"fill": {"field": "v", "type": "quantitative", "legend": null, "scale": {"type": "threshold", "domain": [-0.37, -0.185, -0.095, 0.055, 0.195, 0.365, 0.6, 0.995], "range": ["#e67f66","#f8b398","#f3d8c5","#f2e1d8","#eff5fb","#dbf3fb","#9bd4e6","#2b7bc0","#2163a6"]}}}}, {"mark": "text", "encoding": {"text": {"field": "t"}}}]},
      {"width": 101, "height": 299, "transform": [{"filter": "datum.c==='Diffuse form'"}], "encoding": {"y": {"field": "r", "type": "nominal", "axis": null, "sort": null, "scale": {"domain": ["IFIT3","IFIT27","IFIT44","ISG15","XAF1","SFRP4","Age","Duration","Activity (EScSG)","Progression","Diffuse form"], "paddingInner": 0, "paddingOuter": 0}}},
       "layer": [{"mark": "rect", "encoding": {"fill": {"field": "v", "type": "quantitative", "legend": null, "scale": {"type": "threshold", "domain": [-0.37, -0.185, -0.095, 0.055, 0.195, 0.365, 0.6, 0.995], "range": ["#e67f66","#f8b398","#f3d8c5","#f2e1d8","#eff5fb","#dbf3fb","#9bd4e6","#2b7bc0","#2163a6"]}}}}, {"mark": "text", "encoding": {"text": {"field": "t"}}}]},
      {"width": 72, "height": 299, "transform": [{"filter": "datum.c==='Onset type'"}], "encoding": {"y": {"field": "r", "type": "nominal", "axis": null, "sort": null, "scale": {"domain": ["IFIT3","IFIT27","IFIT44","ISG15","XAF1","SFRP4","Age","Duration","Activity (EScSG)","Progression","Diffuse form"], "paddingInner": 0, "paddingOuter": 0}}},
       "layer": [{"mark": "rect", "encoding": {"fill": {"field": "v", "type": "quantitative", "legend": null, "scale": {"type": "threshold", "domain": [-0.37, -0.185, -0.095, 0.055, 0.195, 0.365, 0.6, 0.995], "range": ["#e67f66","#f8b398","#f3d8c5","#f2e1d8","#eff5fb","#dbf3fb","#9bd4e6","#2b7bc0","#2163a6"]}}}}, {"mark": "text", "encoding": {"text": {"field": "t"}}}]}
    ]}
  ]}
]
}
